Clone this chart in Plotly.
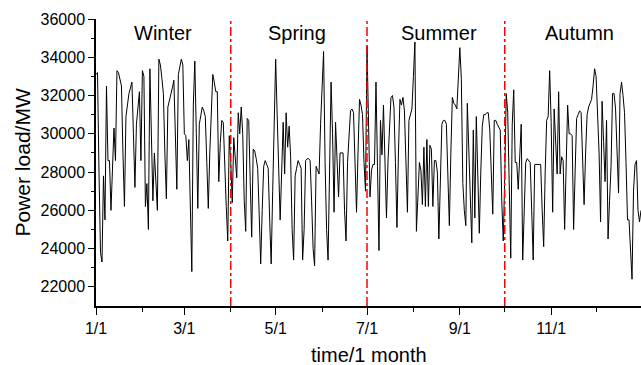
import plotly.graph_objects as go

# Daily power load (MW), day index 0 = 1/1
load_jan_mar = [
    33100, 33200, 28000, 23800, 23300, 27800, 25500, 32500, 28600, 28600,
    26000, 28500, 30300, 28600, 33300, 33200, 32800, 32500, 29000, 26200,
    30900, 31500, 32100, 32400, 32700, 30000, 27200, 30500, 31600, 32200,
    28600, 33300, 33000, 26200, 27400, 25000, 33400, 30000, 26500, 29000,
    27500, 26000, 33900, 33600, 32900, 32100, 29000, 26600, 31400, 31700,
    32000, 32400, 32800, 30000, 27100, 33100, 33500, 33900, 33600, 30000,
    29900, 28600, 29700, 26000, 22800, 31500, 33800, 30000, 26100, 30500,
    31000, 31400, 31200, 30900, 28500, 26100, 29000, 31500, 33100, 32700,
    32200, 32200, 27500, 29500, 30700, 30600, 28000, 26200, 24400, 29900,
]
load_apr_jun = [
    28500, 26400, 29800, 28500, 27700, 31100, 30000, 31400, 30000, 26500,
    24900, 30800, 30700, 27500, 24600, 29200, 29100, 28700, 28200, 25800,
    23200, 26000, 28300, 28600, 28400, 28200, 25500, 23200, 27000, 30500,
    33900, 31000, 28000, 25500, 28000, 30600, 27900, 31100, 29300, 30400,
    28800, 25000, 23400, 27800, 28200, 28600, 28400, 28200, 23400, 25000,
    28600, 28700, 28700, 28600, 26500, 24000, 23100, 28300, 28100, 27900,
    30500, 33000, 34300, 28500, 25000, 23400, 28000, 32700, 30000, 25900,
    30600, 28500, 26700, 29000, 29000, 29000, 26000, 24400, 28500, 30300,
    31200, 31300, 31100, 28500, 25900, 29000, 31800, 31500, 31000, 28500,
    27000,
]
load_jul_sep = [
    34600, 30000, 26700, 28100, 28400, 28400, 32700, 28300, 23900,
    30700, 28900, 31500, 28500, 25600, 28500, 30700, 31900, 32000, 31400,
    28500, 25100, 29000, 31800, 31500, 31900, 31200, 28500, 25900, 30700,
    31000, 31300, 33000, 34800, 24900, 27000, 28500, 28100, 26300, 29300,
    26200, 29700, 26200, 29400, 29200, 26200, 28600, 28600, 28000, 24500,
    27500, 30500, 30700, 30700, 30500, 28000, 25200, 29000, 31900, 31600,
    31500, 31300, 33000, 34500, 32900, 27400, 26000, 25200, 31600, 29000,
    26500, 24300, 30200, 25600, 30900, 28000, 24800, 28000, 30400, 31000,
    31000, 31100, 31100, 30200, 27500, 25800, 30700, 30700, 30500, 30300,
    30200, 26500, 24400,
]
load_oct_dec = [
    27800, 32100, 31100, 27600, 23500, 30500, 32300,
    28500, 28500, 27100, 28500, 30500, 23400, 25500, 28500, 28700, 28600,
    28500, 26000, 23400, 28400, 28400, 28400, 28400, 28400, 26000, 24100,
    28000, 30700, 30900, 33300, 30600, 25900, 31300, 29200, 27900, 32200,
    27900, 28800, 28600, 25000, 28000, 31500, 30000, 30000, 29900, 25000,
    28000, 30800, 31000, 31200, 31100, 28500, 26300, 29000, 31000, 31400,
    31600, 31800, 32500, 33400, 33000, 30900, 29000, 25400, 31700, 29600,
    27500, 30700, 24500, 26500, 28300, 32100, 32100, 31300, 28500, 26900,
    32100, 32700, 32000, 31100, 28500, 25500, 25500, 24000, 22400, 27000,
    28400, 28600, 26000, 25400, 26000,
]
load = load_jan_mar + load_apr_jun + load_jul_sep + load_oct_dec
days = list(range(len(load)))

tick_days = [0, 59, 120, 181, 243, 304]
tick_labels = ["1/1", "3/1", "5/1", "7/1", "9/1", "11/1"]
minor_days = [31, 90, 151, 212, 273, 334]
y_ticks = [22000, 24000, 26000, 28000, 30000, 32000, 34000, 36000]
y_minor = [23000, 25000, 27000, 29000, 31000, 33000, 35000]
season_bounds = [90, 181, 273]
season_names = ["Winter", "Spring", "Summer", "Autumn"]
season_label_days = [45, 134, 229, 323]
season_label_y = 35250

fig = go.Figure()
fig.add_trace(go.Scatter(x=days, y=load, mode="lines",
                         line=dict(color="black", width=1), showlegend=False))

for b in season_bounds:
    fig.add_shape(type="line", x0=b, x1=b, y0=0, y1=1, yref="paper", xref="x",
                  line=dict(color="red", width=1.5, dash="dashdot"))

for name, d in zip(season_names, season_label_days):
    fig.add_annotation(x=d, y=season_label_y, text=name, showarrow=False,
                       font=dict(size=20, color="black"))

# axis titles as annotations for precise placement
fig.add_annotation(x=0.5, y=0, xref="paper", yref="paper", text="time/1 month",
                   showarrow=False, yanchor="middle", yshift=-49,
                   font=dict(size=20, color="black"))
fig.add_annotation(x=0, y=0.5, xref="paper", yref="paper", text="Power load/MW",
                   showarrow=False, textangle=-90, xanchor="center", xshift=-74,
                   font=dict(size=21, color="black"))

fig.update_layout(
    width=641, height=365,
    margin=dict(l=96, r=0, t=19, b=59),
    plot_bgcolor="white", paper_bgcolor="white",
    font=dict(family="Liberation Sans, Arial, sans-serif", color="black", size=16),
    xaxis=dict(
        range=[0, 364], tickmode="array", tickvals=tick_days, ticktext=tick_labels,
        ticks="outside", ticklen=7, tickwidth=1.2, tickcolor="black",
        showline=True, linecolor="black", linewidth=1.5, showgrid=False, zeroline=False,
        minor=dict(tickmode="array", tickvals=minor_days, ticks="outside", ticklen=4,
                   tickwidth=1.2, tickcolor="black"),
        automargin=False, tickfont=dict(size=16),
    ),
    yaxis=dict(
        range=[21000, 36000], tickmode="array",
        tickvals=y_ticks, ticktext=[str(v) for v in y_ticks],
        ticks="outside", ticklen=6, tickwidth=1.2, tickcolor="black",
        showline=True, linecolor="black", linewidth=1.5, showgrid=False, zeroline=False,
        minor=dict(tickmode="array", tickvals=y_minor,
                   ticks="outside", ticklen=3, tickwidth=1.2, tickcolor="black"),
        automargin=False, tickfont=dict(size=16),
    ),
)

fig.write_html("out.html",
               config={"displayModeBar": False},
               post_script="document.body.style.margin='0';"
                           "document.body.style.overflow='hidden';")
